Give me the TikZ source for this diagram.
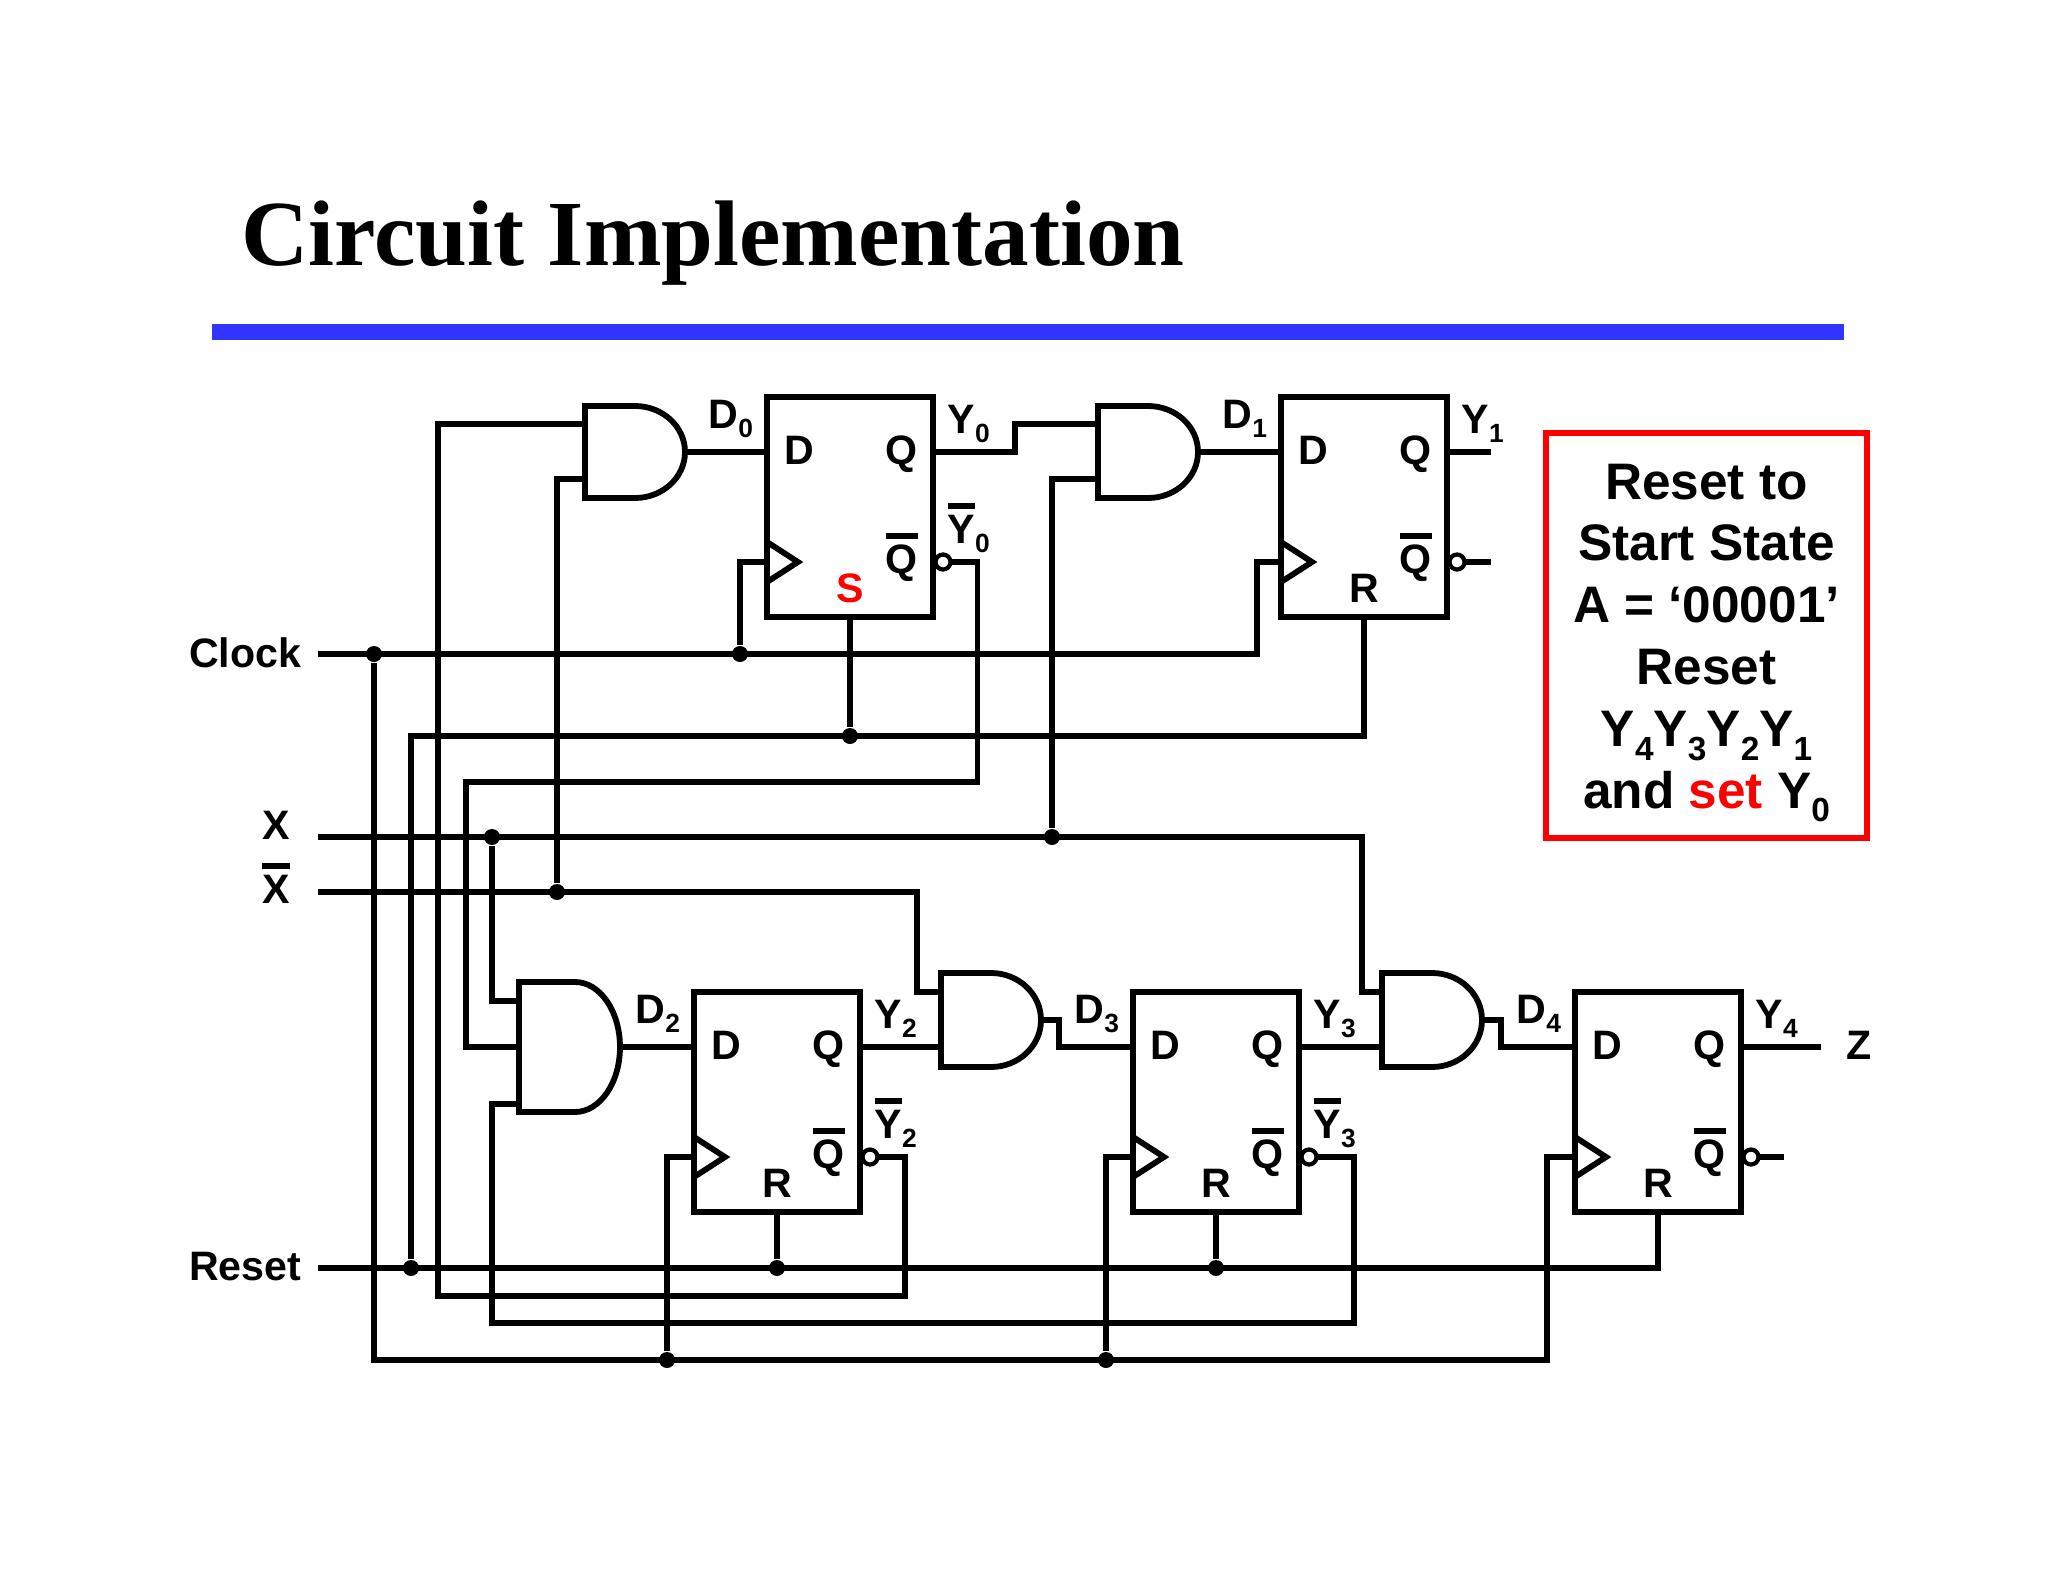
\documentclass[tikz,border=0pt]{standalone}
\usepackage{fontspec}
\setmainfont{Liberation Sans}
\newfontfamily\titlefont{Liberation Serif}
\usepackage{xcolor}
\usepackage{tikz}
\usetikzlibrary{positioning}
\definecolor{barblue}{HTML}{3333FF}
\newcommand{\subs}[3][7.5]{\raisebox{#2}{\fontsize{#1}{#1}\selectfont #3}}
\newcommand{\barred}[1]{\vbox{\hrule height 1.6pt \kern 1.6pt \hbox{#1}}}

\begin{document}
\begin{tikzpicture}[
x=0.01cm, y=-0.01cm,
font=\bfseries\fontsize{11.7}{14}\selectfont,
wire/.style={line width=1.55pt},
ffbox/.style={draw,line width=1.65pt,minimum width=1.66cm,minimum height=2.2cm,inner sep=0pt,outer sep=0pt},
gatebody/.style={line width=1.65pt},
bubble/.style={draw,circle,line width=1.2pt,fill=white,minimum size=0.15cm,inner sep=0pt,outer sep=0pt},
joint/.style={circle,fill=black,minimum size=0.16cm,inner sep=0pt},
lbl/.style={inner sep=0pt,anchor=base west},
pin/.style={inner sep=0pt,anchor=base}
]
    \useasboundingbox (0,0) rectangle (2048,1582);

    % Title and bar
    \node[lbl,font=\titlefont\bfseries\fontsize{26.5}{30}\selectfont] (title) at (241,265) {Circuit Implementation};
    \fill[barblue] (212,324) rectangle (1844,340);

    % Flip flops
    \foreach \n/\x/\y/\lt/\lc in {0/850/507/S/red, 1/1364/507/R/black, 2/777/1102/R/black, 3/1216/1102/R/black, 4/1658/1102/R/black} {
        \node[ffbox] (ff\n) at (\x,\y) {};
        \coordinate (d\n) at (\x-83,\y-55);
        \coordinate (q\n) at (\x+83,\y-55);
        \coordinate (ck\n) at (\x-83,\y+55);
        \draw[gatebody] (\x-83,\y+35) -- (\x-52,\y+55) -- (\x-83,\y+75);
        \node[bubble] (nq\n) at (\x+93,\y+55) {};
        \node[lbl] (dp\n) at (\x-66,\y-43) {D};
        \node[lbl] (qp\n) at (\x+35,\y-43) {Q};
        \node[lbl] (qn\n) at (\x+35,\y+66) {\barred{Q}};
        \node[pin,text=\lc] (rs\n) at (\x,\y+95) {\lt};
        \node[lbl] (dl\n) at (\x-142,\y-79) {D\subs{-2.8pt}{\n}};
        \node[lbl] (yl\n) at (\x+97,\y-74) {Y\subs{-2.8pt}{\n}};
    }
    \foreach \n/\x/\y in {0/850/507, 2/777/1102, 3/1216/1102} {
        \node[lbl] (yn\n) at (\x+97,\y+36) {\barred{Y}\subs{-2.8pt}{\n}};
    }

    % And gates
    \foreach \n/\x/\y/\ry/\fl/\rx in {0/585/452/46/50/50, 1/1098/452/46/50/50, 2/519/1047/65/56/45, 3/941/1020/47/50/50, 4/1382/1020/47/50/50} {
        \draw[gatebody] (\x,\y-\ry) -- ++(\fl,0)
            arc[start angle=90,end angle=-90,x radius=\rx*0.01cm,y radius=\ry*0.01cm]
            -- ++(-\fl,0) -- cycle;
        \coordinate (a\n) at (\x,\y-28);
        \coordinate (b\n) at (\x,\y+27);
        \coordinate (o\n) at (\x+\fl+\rx,\y);
    }
    \coordinate (a2) at (519,1001);
    \coordinate (c2) at (519,1047);
    \coordinate (b2) at (519,1104);

    % Inputs and free ends
    \coordinate (clkin) at (318,654);
    \coordinate (xin) at (318,837);
    \coordinate (xnin) at (318,892);
    \coordinate (rstin) at (318,1268);
    \coordinate (cb) at (374,1360);
    \coordinate (rt) at (411,736);
    \coordinate (fb0) at (466,782);
    \coordinate (fb2) at (905,1296);
    \coordinate (fb3) at (1354,1323);
    \coordinate (z1) at (1491,452);
    \coordinate (z1n) at (1491,562);
    \coordinate (z4) at (1821,1047);
    \coordinate (z4n) at (1784,1157);

    \node[anchor=east,inner sep=0pt] (clklbl) at (302,653) {Clock};
    \node[anchor=east,inner sep=0pt] (rstlbl) at (302,1267) {Reset};
    \node[pin] (xlbl) at (276,839) {X};
    \node[pin] (xnlbl) at (276,903) {\barred{X}};
    \node[lbl] (zlbl) at (1846,1059) {Z};

    % Junctions
    \node[joint] (jc0) at (374,654) {};
    \node[joint] (jc1) at (740,654) {};
    \node[joint] (js0) at (850,736) {};
    \node[joint] (jx1) at (492,837) {};
    \node[joint] (jx2) at (1052,837) {};
    \node[joint] (jn0) at (557,892) {};
    \node[joint] (jr0) at (411,1268) {};
    \node[joint] (jr2) at (777,1268) {};
    \node[joint] (jr3) at (1216,1268) {};
    \node[joint] (jb2) at (667,1360) {};
    \node[joint] (jb3) at (1106,1360) {};

    % Clock
    \draw[wire] (ck1) -- ++(-24,0) |- (clkin);
    \draw[wire] (ck0) -| (jc1);
    \draw[wire] (ck4) -- ++(-28,0) |- (cb) -- (jc0);
    \draw[wire] (ck2) -| (jb2);
    \draw[wire] (ck3) -| (jb3);

    % Reset
    \draw[wire] (rstin) -| (ff4.south);
    \draw[wire] (jr0) -- (rt) -| (ff1.south);
    \draw[wire] (ff0.south) -- (js0);
    \draw[wire] (ff2.south) -- (jr2);
    \draw[wire] (ff3.south) -- (jr3);

    % X inputs
    \draw[wire] (a4) -- ++(-20,0) |- (xin);
    \draw[wire] (a3) -- ++(-24,0) |- (xnin);
    \draw[wire] (a2) -| (jx1);
    \draw[wire] (b1) -| (jx2);
    \draw[wire] (b0) -| (jn0);

    % Gates to flip flops
    \draw[wire] (o0) -- (d0);
    \draw[wire] (o1) -- (d1);
    \draw[wire] (o2) -- (d2);
    \draw[wire] (o3) -- ++(18,0) |- (d3);
    \draw[wire] (o4) -- ++(19,0) |- (d4);
    \draw[wire] (q0) -- ++(82,0) |- (a1);
    \draw[wire] (q2) -- (b3);
    \draw[wire] (q3) -- (b4);

    % Feedback
    \draw[wire] (nq0.east) -- ++(27,0) |- (fb0) |- (c2);
    \draw[wire] (a0) -- ++(-147,0) |- (fb2) |- (nq2.east);
    \draw[wire] (b2) -- ++(-27,0) |- (fb3) |- (nq3.east);

    % Outputs
    \draw[wire] (q1) -- (z1);
    \draw[wire] (nq1.east) -- (z1n);
    \draw[wire] (q4) -- (z4);
    \draw[wire] (nq4.east) -- (z4n);

    % Note
    \node[draw=red,line width=1.65pt,minimum width=3.21cm,minimum height=4.05cm] (note) at (1706.5,635.5) {};
    \node[inner sep=0pt,align=center,font=\bfseries\fontsize{14.6}{17.6}\selectfont] (notetxt) at (1706.5,643)
        {Reset to\\Start State\\A = ‘00001’\\Reset\\Y\subs[9.5]{-3.8pt}{4}Y\subs[9.5]{-3.8pt}{3}Y\subs[9.5]{-3.8pt}{2}Y\subs[9.5]{-3.8pt}{1}\\and \textcolor{red}{set} Y\subs[9.5]{-3.8pt}{0}};
\end{tikzpicture}
\end{document}
